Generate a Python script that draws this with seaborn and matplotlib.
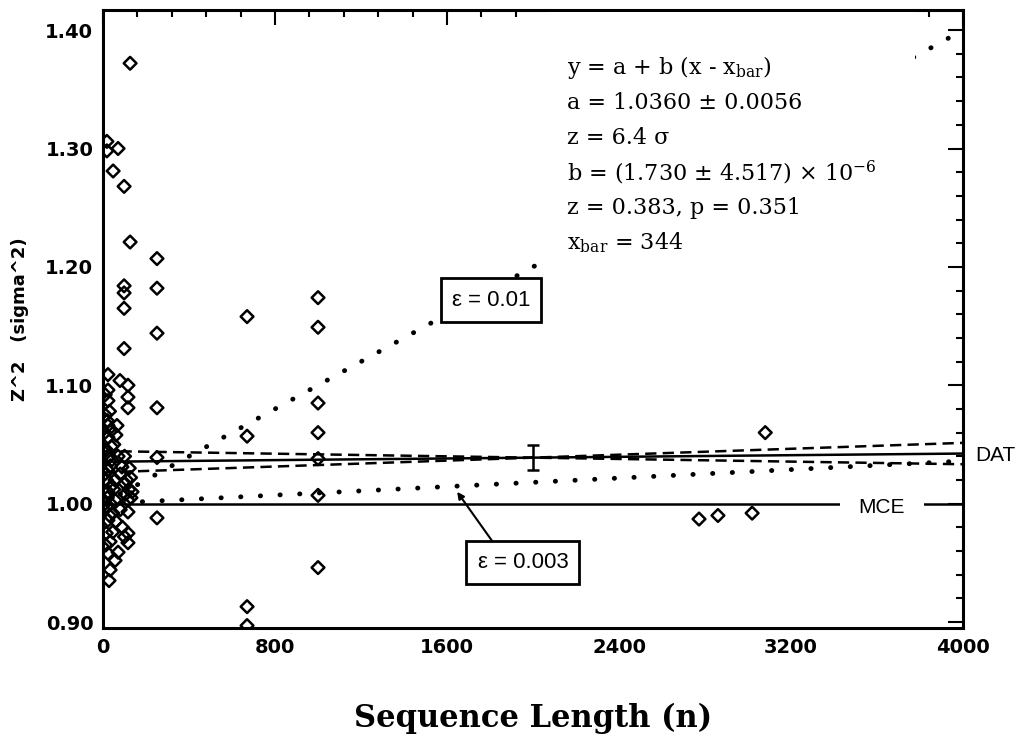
import numpy as np
import matplotlib
matplotlib.use("Agg")
import matplotlib.pyplot as plt
import matplotlib.patches as mpatches
import matplotlib.transforms as mtransforms
from matplotlib.ticker import MultipleLocator, FixedLocator, FormatStrFormatter
import seaborn as sns

# Werte: Sequenzlänge n und Z^2 je Datensatz
seq_len = [126, 18, 18, 70, 47, 98, 126, 98, 98, 98, 98,
           23, 79, 116, 116, 116, 23, 23, 10, 10, 30,
           23, 65, 40, 23, 50, 60, 42, 30, 100, 88,
           23, 56, 80, 110, 102, 15, 40, 135, 120, 23,
           56, 116, 130, 35, 19, 80, 116, 23, 60, 90,
           45, 15, 116, 100, 116, 33, 23, 70, 56, 33, 28,
           8, 12, 35, 50, 70, 8, 20, 45, 128, 122, 12, 30, 8, 40, 20, 105,
           251, 251, 251, 251, 251, 251,
           670, 670, 670, 670,
           1000, 1000, 1000, 1000, 1000, 1000, 1000,
           2772, 2860, 3019, 3080]
z2 = [1.372, 1.306, 1.298, 1.300, 1.281, 1.268, 1.221, 1.184, 1.178, 1.165, 1.131,
      1.109, 1.104, 1.100, 1.090, 1.081, 1.096, 1.087, 1.092, 1.075, 1.078,
      1.066, 1.066, 1.062, 1.056, 1.050, 1.058, 1.037, 1.040, 1.040, 1.031,
      1.028, 1.020, 1.025, 1.020, 1.017, 1.020, 1.015, 1.010, 1.012, 1.010,
      1.003, 1.003, 1.005, 1.000, 0.997, 0.995, 0.993, 0.986, 0.985, 0.980,
      0.976, 0.975, 0.975, 0.972, 0.967, 0.968, 0.958, 0.959, 0.952, 0.944, 0.935,
      1.060, 1.045, 1.032, 1.012, 1.040, 1.025, 1.005, 0.992, 1.022, 1.030, 0.965, 0.990,
      1.000, 1.048, 1.070, 1.008,
      1.207, 1.182, 1.144, 1.081, 1.039, 0.988,
      1.158, 1.057, 0.913, 0.897,
      1.174, 1.149, 1.085, 1.060, 1.038, 1.007, 0.946,
      0.987, 0.990, 0.992, 1.060]

# Fitparameter (aus dem Textblock)
fit_a = 1.0360
fit_b = 1.730e-6
fit_sb = 4.517e-6
x_bar = 344
err_n = 2000
err_half = 0.0106
mce_level = 1.0

eps_vals = [0.01, 0.003]
eps_labels = ["ε = 0.01", "ε = 0.003"]
eps_label_pos = [(1805, 1.172), (1953, 0.950)]
eps_arrow_target = (1647, 1.010)

stats_lines = [
    r"y = a + b (x - x$_{\mathrm{bar}}$)",
    "a = 1.0360 ± 0.0056",
    "z = 6.4 σ",
    r"b = (1.730 ± 4.517) × 10$^{\mathrm{-6}}$",
    "z = 0.383, p = 0.351",
    r"x$_{\mathrm{bar}}$ = 344",
]

x_ticks = [0, 800, 1600, 2400, 3200, 4000]
y_ticks = [0.90, 1.00, 1.10, 1.20, 1.30, 1.40]

sns.set_style("white")
plt.rcParams["font.family"] = ["DejaVu Sans"]
plt.rcParams["mathtext.fontset"] = "dejavuserif"
plt.rcParams["text.color"] = "black"
plt.rcParams["axes.labelcolor"] = "black"
plt.rcParams["xtick.color"] = "black"
plt.rcParams["ytick.color"] = "black"

fig = plt.figure(figsize=(10.23, 7.40), dpi=100)
ax = fig.add_axes([0.1007, 0.1514, 0.8407, 0.8351])

n_line = np.array([0, 4000])
fit = lambda n: fit_a + fit_b * (n - x_bar)
y_err = fit(err_n)

# Fitgerade (DAT) und Fehlerbänder
sns.lineplot(x=n_line, y=fit(n_line), color="black", linewidth=1.8, ax=ax, zorder=2)
for slope in (fit_b + fit_sb, fit_b - fit_sb):
    sns.lineplot(x=n_line, y=y_err + slope * (n_line - err_n), color="black",
                 linewidth=1.8, linestyle=(0, (4.5, 2.5)), ax=ax, zorder=2)
ax.errorbar(err_n, y_err, yerr=err_half, fmt="none", ecolor="black",
            elinewidth=1.8, capsize=4, capthick=1.8, zorder=3)

# MCE-Linie
ax.axhline(mce_level, color="black", linewidth=1.8, zorder=2)

# Erwartungskurven für Effektgrößen eps
for eps in eps_vals:
    ax.plot(n_line, 1 + eps ** 2 * n_line, color="black", linewidth=3.5,
            linestyle=(0, (0.05, 4.0)), dash_capstyle="round", zorder=2)

# Datenpunkte
sns.scatterplot(x=seq_len, y=z2, marker="D", s=42, color="none",
                edgecolor="black", linewidth=1.8, ax=ax, zorder=5)

# weißer Hintergrund hinter dem Statistikblock
ax.add_patch(mpatches.Rectangle((0.517, 0.592), 0.427, 0.405, transform=ax.transAxes,
                                facecolor="white", edgecolor="none", zorder=3))
for i, line in enumerate(stats_lines):
    ax.text(0.5395, 1 - (58 + 35 * i) / 618, line, transform=ax.transAxes,
            family="DejaVu Serif", fontsize=16, va="center", ha="left", zorder=6)

box = dict(boxstyle="square,pad=0.5", fc="white", ec="black", lw=2.0)
ax.text(*eps_label_pos[0], eps_labels[0], family="Liberation Sans", fontsize=16,
        ha="center", va="center", bbox=box, zorder=6)
ax.annotate(eps_labels[1], xy=eps_arrow_target, xytext=eps_label_pos[1],
            family="Liberation Sans", fontsize=16, ha="center", va="center",
            bbox=box, zorder=6,
            arrowprops=dict(arrowstyle="-|>", color="black", lw=1.5,
                            mutation_scale=10, shrinkA=0, shrinkB=0,
                            relpos=(0.25, 1.0)))

ax.text(3623, 0.997, "MCE", family="Liberation Sans", fontsize=15, ha="center",
        va="center", zorder=4,
        bbox=dict(boxstyle="square,pad=0.9", fc="white", ec="none"))
trans = mtransforms.blended_transform_factory(ax.transAxes, ax.transData)
ax.text(1.014, fit(4000) - 0.002, "DAT", transform=trans, family="Liberation Sans",
        fontsize=15, ha="left", va="center", clip_on=False)

ax.set_xlim(0, 4000)
ax.set_ylim(0.895, 1.417)
ax.xaxis.set_major_locator(FixedLocator(x_ticks))
ax.xaxis.set_minor_locator(MultipleLocator(160))
ax.yaxis.set_major_locator(FixedLocator(y_ticks))
ax.yaxis.set_minor_locator(MultipleLocator(0.02))
ax.yaxis.set_major_formatter(FormatStrFormatter("%.2f"))
ax.tick_params(which="both", direction="in", top=True, right=True, width=1.5,
               labelsize=14, color="black")
ax.tick_params(which="major", length=11, pad=7)
ax.tick_params(which="minor", length=5)
for lab in ax.get_xticklabels() + ax.get_yticklabels():
    lab.set_fontweight("bold")
for sp in ax.spines.values():
    sp.set_linewidth(2.2)
    sp.set_color("black")

ax.set_xlabel("Sequence Length (n)", family="DejaVu Serif", fontweight="bold",
              fontsize=22, labelpad=33)
ax.set_ylabel("Z^2   (sigma^2)", fontsize=13, fontweight="bold", labelpad=12)

fig.savefig("out.png", dpi=100)
